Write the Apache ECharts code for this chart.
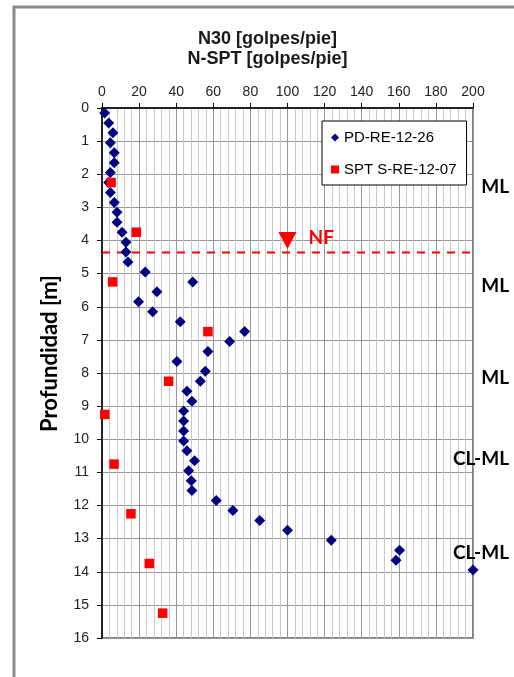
<!DOCTYPE html>
<html>
<head>
<meta charset="utf-8">
<script src="https://cdn.jsdelivr.net/npm/echarts@6/dist/echarts.min.js"></script>
<style>
  html, body { margin: 0; padding: 0; background: #fff; }
  #main { width: 514px; height: 677px; }
</style>
</head>
<body>
<div id="main"></div>
<script>
// N30 - sondeo PD-RE-12-26 (profundidad en m, golpes/pie)
var depthPD = [0.15, 0.45, 0.75, 1.05, 1.35, 1.65, 1.95, 2.25, 2.55, 2.85,
  3.15, 3.45, 3.75, 4.05, 4.35, 4.65, 4.95, 5.25, 5.55, 5.85,
  6.15, 6.45, 6.75, 7.05, 7.35, 7.65, 7.95, 8.25, 8.55, 8.85,
  9.15, 9.45, 9.75, 10.05, 10.35, 10.65, 10.95, 11.25, 11.55, 11.85,
  12.15, 12.45, 12.75, 13.05, 13.35, 13.65, 13.95];
var valuePD = [1.4, 3.6, 5.9, 4.5, 6.6, 6.6, 4.5, 3.6, 4.5, 6.6,
  8.1, 8.1, 10.8, 12.9, 12.9, 14, 23.3, 48.9, 29.6, 19.7,
  27.3, 42.2, 76.9, 68.8, 57.1, 40.4, 55.7, 53, 45.8, 48.5,
  44, 44, 44, 44, 45.8, 49.9, 46.7, 48.1, 48.5, 61.6,
  70.6, 85, 100, 123.6, 160.4, 158.5, 200];

// N-SPT - sondeo S-RE-12-07
var depthSPT = [2.25, 3.75, 5.25, 6.75, 8.25, 9.25, 10.75, 12.25, 13.75, 15.25];
var valueSPT = [4.9, 18.5, 5.7, 57.1, 35.9, 1.5, 6.5, 15.6, 25.5, 32.7];

// nivel freatico
var nfValue = 100;
var nfDepth = 4.0;
var waterDepth = 4.36;

// clasificacion de suelos (a la derecha)
var soilNames = ['ML', 'ML', 'ML', 'CL-ML', 'CL-ML'];
var soilDepths = [2.38, 5.37, 8.16, 10.6, 13.42];

var chart = echarts.init(document.getElementById('main'));

function pairs(xs, ys) {
  var out = [];
  for (var i = 0; i < xs.length; i++) out.push([xs[i], ys[i]]);
  return out;
}

var option = {
  animation: false,
  backgroundColor: '#fff',
  grid: {
    left: 102,
    right: 41,
    top: 108,
    bottom: 39,
    show: true,
    borderColor: '#808080',
    borderWidth: 2,
    outerBoundsMode: 'none'
  },
  legend: {
    orient: 'vertical',
    left: 322,
    top: 121,
    padding: [9, 10, 8, 9],
    itemGap: 17,
    itemWidth: 8,
    itemHeight: 8,
    backgroundColor: '#fff',
    borderColor: '#000',
    borderWidth: 1,
    borderRadius: 0,
    textStyle: {
      fontFamily: 'Liberation Sans',
      fontSize: 15,
      color: '#000',
      padding: [0, 0, 0, 0]
    },
    data: ['PD-RE-12-26', 'SPT S-RE-12-07']
  },
  xAxis: {
    type: 'value',
    position: 'top',
    min: 0,
    max: 200,
    interval: 20,
    axisLine: { show: true, lineStyle: { color: '#000', width: 1.5 } },
    axisTick: { show: true, inside: false, length: 5, lineStyle: { color: '#000' } },
    axisLabel: {
      margin: 9,
      fontFamily: 'Liberation Sans',
      fontSize: 14,
      color: '#222',
      showMinLabel: true,
      showMaxLabel: true
    },
    splitLine: { show: true, lineStyle: { color: '#979797', width: 1 } },
    minorTick: { show: false, splitNumber: 5 },
    minorSplitLine: { show: true, lineStyle: { color: '#c8c8c8', width: 1 } }
  },
  yAxis: {
    type: 'value',
    inverse: true,
    min: 0,
    max: 16,
    interval: 1,
    axisLine: { show: true, onZero: false, lineStyle: { color: '#000', width: 1.5 } },
    axisTick: { show: true, inside: false, length: 5, lineStyle: { color: '#000' } },
    axisLabel: {
      margin: 13,
      fontFamily: 'Liberation Sans',
      fontSize: 14,
      color: '#222',
      showMinLabel: true,
      showMaxLabel: true
    },
    splitLine: { show: true, lineStyle: { color: '#979797', width: 1 } }
  },
  series: [
    {
      name: 'PD-RE-12-26',
      type: 'scatter',
      symbol: 'diamond',
      symbolSize: 11,
      itemStyle: { color: '#000080', opacity: 1 },
      data: pairs(valuePD, depthPD),
      z: 3
    },
    {
      name: 'SPT S-RE-12-07',
      type: 'scatter',
      symbol: 'rect',
      symbolSize: 9.5,
      itemStyle: { color: '#ff0000', opacity: 1 },
      data: pairs(valueSPT, depthSPT),
      z: 4
    },
    {
      name: 'NF',
      type: 'line',
      symbol: 'none',
      silent: true,
      lineStyle: { color: '#ff0000', width: 2, type: [8, 7] },
      data: [[0, waterDepth], [200, waterDepth]],
      z: 2
    },
    {
      name: 'NF marca',
      type: 'scatter',
      symbol: 'triangle',
      symbolRotate: 180,
      symbolSize: [18, 17],
      itemStyle: { color: '#ff0000', opacity: 1 },
      data: [[nfValue, nfDepth]],
      z: 5
    }
  ]
};

chart.setOption(option);

// textos: titulos, eje, NF y suelos
var graphics = [
  {
    type: 'rect',
    shape: { x: 14, y: 7, width: 560, height: 720 },
    style: { fill: 'none', stroke: '#8a8a8a', lineWidth: 3 },
    z: 0
  },
  {
    type: 'text', x: 267.5, y: 39,
    style: { text: 'N30 [golpes/pie]', font: 'bold 18px "Liberation Sans"', fill: '#1a1a1a',
      textAlign: 'center', textVerticalAlign: 'middle', align: 'center', verticalAlign: 'middle' }
  },
  {
    type: 'text', x: 267.5, y: 59,
    style: { text: 'N-SPT [golpes/pie]', font: 'bold 18px "Liberation Sans"', fill: '#1a1a1a',
      textAlign: 'center', textVerticalAlign: 'middle', align: 'center', verticalAlign: 'middle' }
  },
  {
    type: 'text', x: 50, y: 353.5, rotation: Math.PI / 2,
    style: { text: 'Profundidad [m]', font: 'bold 22px Lato', fill: '#000',
      textAlign: 'center', textVerticalAlign: 'middle', align: 'center', verticalAlign: 'middle' }
  }
];

var nfPix = chart.convertToPixel({ gridIndex: 0 }, [nfValue, nfDepth]);
graphics.push({
  type: 'text', x: nfPix[0] + 21, y: nfPix[1] - 3,
  style: { text: 'NF', font: 'bold 19px Lato', fill: '#ff0000',
    textAlign: 'left', textVerticalAlign: 'middle', align: 'left', verticalAlign: 'middle' }
});

for (var i = 0; i < soilNames.length; i++) {
  var p = chart.convertToPixel({ gridIndex: 0 }, [200, soilDepths[i]]);
  graphics.push({
    type: 'text', x: 509, y: p[1],
    style: { text: soilNames[i], font: 'bold 19px Lato', fill: '#000',
      textAlign: 'right', textVerticalAlign: 'middle', align: 'right', verticalAlign: 'middle' }
  });
}

chart.setOption({ graphic: graphics });
</script>
</body>
</html>
